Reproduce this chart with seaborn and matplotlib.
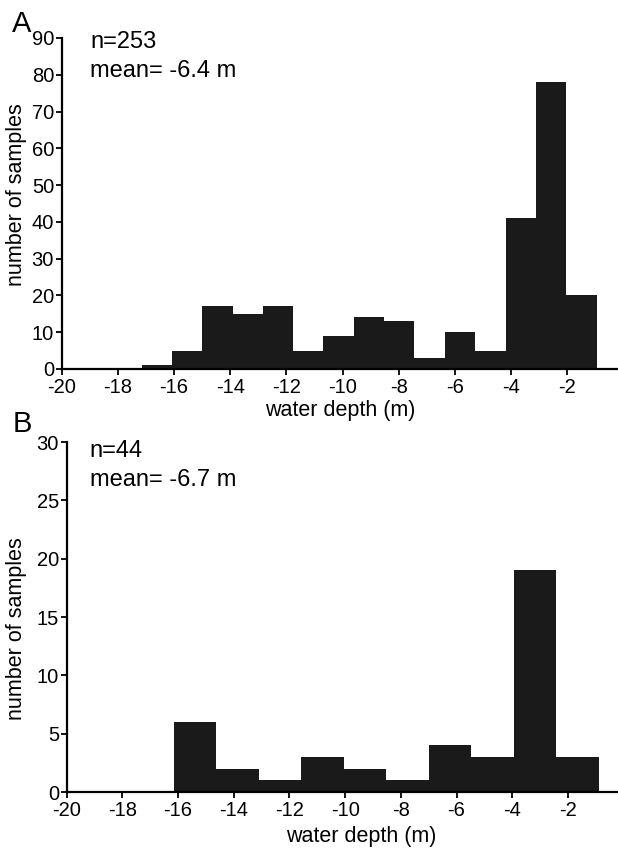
import numpy as np
import matplotlib
matplotlib.use("Agg")
import matplotlib.pyplot as plt
import seaborn as sns

# Panel A: histogram bins (water depth, m) and counts
edges_a = [-17.15, -16.07, -15.0, -13.92, -12.85, -11.77, -10.69, -9.61,
           -8.53, -7.45, -6.37, -5.29, -4.2, -3.12, -2.04, -0.96]
counts_a = [1, 5, 17, 15, 17, 5, 9, 14, 13, 3, 10, 5, 41, 78, 20]

# Panel B
edges_b = [-16.14, -14.62, -13.1, -11.58, -10.05, -8.53, -7.0, -5.47,
           -3.95, -2.42, -0.89]
counts_b = [6, 2, 1, 3, 2, 1, 4, 3, 19, 3]

x_ticks = [-20, -18, -16, -14, -12, -10, -8, -6, -4, -2]
y_ticks_a = [0, 10, 20, 30, 40, 50, 60, 70, 80, 90]
y_ticks_b = [0, 5, 10, 15, 20, 25, 30]

sns.set_style("ticks")
plt.rcParams['font.family'] = ['Liberation Sans', 'DejaVu Sans']
plt.rcParams['axes.unicode_minus'] = False
for key in ['text.color', 'axes.labelcolor', 'xtick.color', 'ytick.color']:
    plt.rcParams[key] = 'black'

fig = plt.figure(figsize=(6.18, 8.48), dpi=100)
ax_a = fig.add_axes([0.0998, 0.5649, 0.9002, 0.3903])
ax_b = fig.add_axes([0.1079, 0.0660, 0.8921, 0.4127])

bar_color = "#1a1a1a"


def draw_panel(ax, edges, counts, yticks, n_text, mean_text, ylab_xy, xlab_xy, ann_y):
    centers = [(edges[i] + edges[i + 1]) / 2 for i in range(len(counts))]
    sns.histplot(x=centers, weights=counts, bins=edges, ax=ax,
                 color=bar_color, alpha=1, linewidth=0, stat="count")
    ax.set_xlim(-20, -0.2)
    ax.set_ylim(0, yticks[-1])
    ax.set_xticks(x_ticks)
    ax.set_yticks(yticks)
    ax.tick_params(axis="both", labelsize=14.5, length=4.5, width=1.3,
                   color="black", direction="out")
    ax.tick_params(axis="x", pad=2)
    ax.tick_params(axis="y", pad=1)
    sns.despine(ax=ax)
    for s in ["left", "bottom"]:
        ax.spines[s].set_linewidth(1.6)
        ax.spines[s].set_color("black")
    ax.set_xlabel("water depth (m)", fontsize=15.5)
    ax.set_ylabel("number of samples", fontsize=15.5)
    ax.xaxis.set_label_coords(*xlab_xy)
    ax.yaxis.set_label_coords(*ylab_xy)
    ax.text(ann_y[0], ann_y[1], n_text, transform=ax.transAxes,
            fontsize=17, va="baseline", ha="left")
    ax.text(ann_y[0], ann_y[2], mean_text, transform=ax.transAxes,
            fontsize=17, va="baseline", ha="left")


draw_panel(ax_a, edges_a, counts_a, y_ticks_a, "n=253", "mean= -6.4 m",
           (-0.0624, 0.526), (0.5, -0.094), (0.051, 0.970, 0.883))
draw_panel(ax_b, edges_b, counts_b, y_ticks_b, "n=44", "mean= -6.7 m",
           (-0.072, 0.466), (0.534, -0.097), (0.042, 0.957, 0.874))

fig.text(0.019, 0.962, "A", fontsize=21, va="baseline", ha="left")
fig.text(0.021, 0.4906, "B", fontsize=21, va="baseline", ha="left")

fig.savefig("out.png", dpi=100, facecolor="white")
